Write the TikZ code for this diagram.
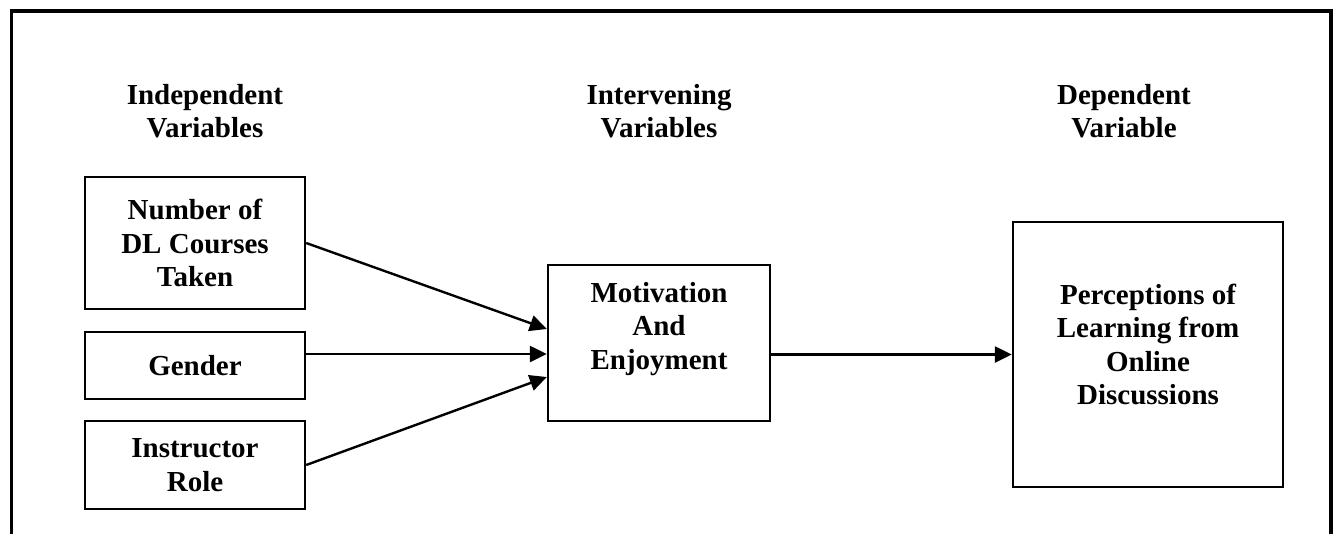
\documentclass[tikz,border=0pt]{standalone}
\usepackage{fontspec}
\setmainfont{Liberation Serif}
\usetikzlibrary{arrows.meta}
\begin{document}
\begin{tikzpicture}[x=1pt,y=-1pt]
		\tikzset{boite/.style={draw, line width=2.4pt, inner sep=0pt},
		         texte/.style={align=center, font=\fontsize{29}{33.5}\selectfont\bfseries},
		         fleche/.style={line width=2.4pt, -{Triangle[length=17pt,width=16pt]}}}
		\useasboundingbox (0,0) rectangle (1337,533);
		\draw[line width=3.3pt] (11.5,540) -- (11.5,11) -- (1331,11) -- (1331,540);

		\node[texte] (I) at (205,111) {Independent\\Variables};
		\node[texte] (M) at (659,111) {Intervening\\Variables};
		\node[texte] (D) at (1124,111) {Dependent\\Variable};

		\node[boite, texte, minimum width=220pt, minimum height=132pt] (N) at (195,243) {Number of\\DL Courses\\Taken};
		\node[boite, texte, minimum width=220pt, minimum height=67pt] (G) at (195,365.5) {Gender};
		\node[boite, texte, minimum width=220pt, minimum height=88pt] (R) at (195,465) {Instructor\\Role};
		\node[boite, minimum width=222pt, minimum height=156pt] (E) at (659,343) {};
		\node[boite, minimum width=270pt, minimum height=265pt] (P) at (1148,354.5) {};

    \draw (E) ++(0,-14) node[texte] {Motivation\\And\\Enjoyment};
    \draw (P) ++(0,-10) node[texte] {Perceptions of\\Learning from\\Online\\Discussions};

    \draw[fleche] (N.east) -- ([yshift=14pt]E.west);
    \draw[fleche] ([yshift=11.5pt]G.east) -- ([yshift=-11pt]E.west);
    \draw[fleche] (R.east) -- ([yshift=-34pt]E.west);
    \draw[fleche] (E.east |- P.west) -- (P.west);

		\end{tikzpicture}
\end{document}
